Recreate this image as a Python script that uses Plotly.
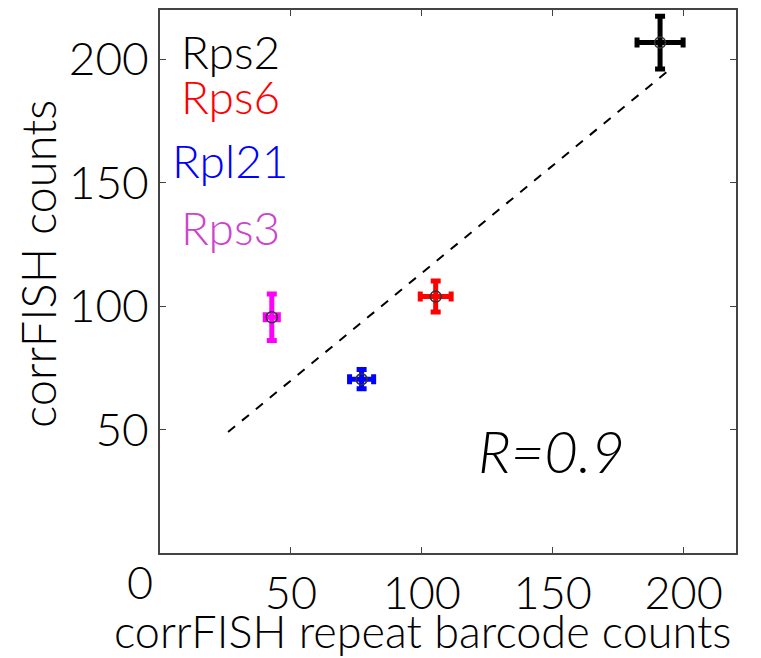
import plotly.graph_objects as go

genes = ["Rps2", "Rps6", "Rpl21", "Rps3"]
x_vals = [191, 105.3, 77.0, 42.7]
y_vals = [206.8, 103.9, 70.4, 95.5]
x_err = [8.8, 5.9, 4.6, 2.5]
y_err = [10.7, 6.3, 3.9, 9.4]
point_colors = ["black", "red", "blue", "magenta"]
label_colors = ["black", "red", "blue", "#cc44cc"]
fit_x = [26, 194]
fit_y = [49, 195.3]
tick_vals = [50, 100, 150, 200]

FONT = "Lato"
W = 300
L, R, T, B = 160, 25, 10, 105
PW, PH = 761 - L - R, 658 - T - B

def px_x(p):
    return (p - L) / PW

def px_y(p):
    return (658 - B - p) / PH

fig = go.Figure()

fig.add_trace(go.Scatter(x=fit_x, y=fit_y, mode="lines",
                         line=dict(color="black", width=2, dash="dash"),
                         showlegend=False))

for g, x, y, ex, ey, c in zip(genes, x_vals, y_vals, x_err, y_err, point_colors):
    fig.add_trace(go.Scatter(
        x=[x], y=[y], mode="markers",
        marker=dict(size=11, color="rgba(0,0,0,0)", line=dict(color="#333", width=1.5)),
        error_x=dict(type="data", array=[ex], color=c, thickness=5, width=5),
        error_y=dict(type="data", array=[ey], color=c, thickness=5, width=5),
        showlegend=False, name=g))

label_y = [203, 185, 159, 132]
for g, c, ly in zip(genes, label_colors, label_y):
    fig.add_annotation(x=27, y=ly, xref="x", yref="y", text=g, showarrow=False,
                       font=dict(family=FONT, size=46, color=c, weight=W))

fig.add_annotation(x=149.5, y=41.5, xref="x", yref="y", text="<i>R=0.9</i>", showarrow=False,
                   font=dict(family=FONT, size=58, color="black", weight=W))
fig.add_annotation(x=px_x(140), y=px_y(582), xref="paper", yref="paper",
                   text="0", showarrow=False, xanchor="center", yanchor="middle",
                   font=dict(family=FONT, size=45, color="black", weight=W))
fig.add_annotation(x=px_x(422), y=px_y(631), xref="paper", yref="paper",
                   text="corrFISH repeat barcode counts", showarrow=False,
                   xanchor="center", yanchor="middle",
                   font=dict(family=FONT, size=45, color="black", weight=W))
fig.add_annotation(x=px_x(38), y=px_y(264), xref="paper", yref="paper",
                   text="corrFISH counts", showarrow=False, textangle=-90,
                   xanchor="center", yanchor="middle",
                   font=dict(family=FONT, size=47, color="black", weight=W))

axis_common = dict(range=[0, 220], tickvals=tick_vals, ticks="inside", ticklen=6,
                   tickcolor="#444", showline=True, linecolor="#444", linewidth=2,
                   mirror="ticks", showgrid=False, zeroline=False, automargin=False)

fig.update_layout(
    width=761, height=658,
    margin=dict(l=L, r=R, t=T, b=B),
    paper_bgcolor="white", plot_bgcolor="white",
    xaxis=dict(**axis_common, tickfont=dict(family=FONT, size=45, color="black", weight=W)),
    yaxis=dict(**axis_common, tickfont=dict(family=FONT, size=46, color="black", weight=W)),
)

fig.write_html("out.html")
